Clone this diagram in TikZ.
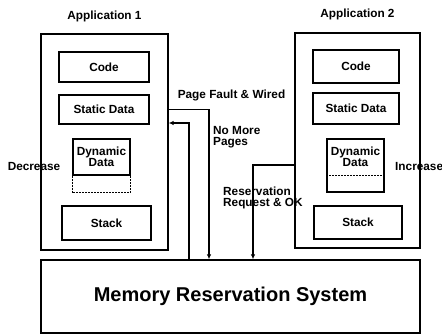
\documentclass[tikz,border=0pt]{standalone}
\usepackage{fontspec}
\setmainfont{Liberation Sans}
\usetikzlibrary{positioning,arrows.meta}

\begin{document}
\begin{tikzpicture}[x=1pt, y=-1pt,
    blk/.style={draw, line width=1.3pt, inner sep=0pt, align=center},
    txt/.style={font=\fontsize{11.8}{11}\selectfont\bfseries, inner sep=0pt},
    wire/.style={line width=1.3pt},
    tip/.style={-{Latex[length=5pt,width=4.5pt]}}]
    \useasboundingbox (0,0) rectangle (442,334);

    \node[blk, minimum width=127pt, minimum height=216pt] (app1) at (104.5,142) {};
    \node[txt, above=11pt of app1] (app1lbl) {Application 1};
    \node[blk, txt, minimum width=90pt, minimum height=30pt] (code1) at (104,67) {Code};
    \node[blk, txt, minimum width=90pt, minimum height=29pt] (static1) at (104,109.5) {Static Data};
    \node[blk, txt, align=center, minimum width=57pt, minimum height=36pt] (dyn1) at (101.5,157) {Dynamic\\Data};
    \draw[wire, dash pattern=on 2pt off 1pt] (dyn1.south west) -- ++(0,17) -| (dyn1.south east);
    \node[blk, txt, minimum width=89pt, minimum height=34pt] (stack1) at (106.5,223) {Stack};

    \node[blk, minimum width=125pt, minimum height=215pt] (app2) at (357.5,140.5) {};
    \node[txt, above=12pt of app2] (app2lbl) {Application 2};
    \node[blk, txt, minimum width=86pt, minimum height=33pt] (code2) at (356,66.5) {Code};
    \node[blk, txt, minimum width=86pt, minimum height=31pt] (static2) at (356,108.5) {Static Data};
    \node[blk, minimum width=57pt, minimum height=53pt] (dyn2) at (355.5,165.5) {};
    \node[txt, align=center] (dyn2txt) at (355.5,157) {Dynamic\\Data};
    \draw[wire, dash pattern=on 2pt off 1pt] ([yshift=17pt]dyn2.south west) -- ([yshift=17pt]dyn2.south east);
    \node[blk, txt, minimum width=88pt, minimum height=33pt] (stack2) at (358,222.5) {Stack};

    \node[blk, minimum width=379pt, minimum height=73pt, font=\fontsize{20}{24}\selectfont\bfseries] (mrs) at (230.5,296.5) {Memory Reservation System};

    \node[txt] (pfw) at (231.5,95) {Page Fault \& Wired};
    \node[txt, align=left, anchor=west] (nmp) at (213,137.5) {No More\\Pages};
    \node[txt, align=left, anchor=west] (rro) at (223,197.5) {Reservation\\Request \& OK};
    \node[txt] (decr) at (34,166) {Decrease};
    \node[txt, anchor=west] (incr) at (395,166) {Increase};

    \draw[wire, tip] (static1 -| app1.east) -| ([xshift=-21.5pt]mrs.north);
    \draw[wire, tip] ([xshift=-41.5pt]mrs.north) |- ([yshift=19pt]app1.east);
    \draw[wire, tip] ([yshift=-24.5pt]app2.west) -| ([xshift=22.5pt]mrs.north);
\end{tikzpicture}
\end{document}
